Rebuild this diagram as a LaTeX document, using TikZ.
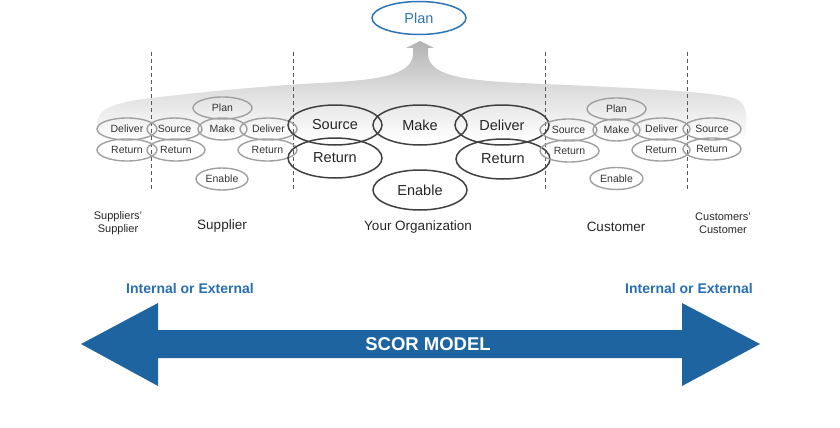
\documentclass[tikz,border=0pt]{standalone}
\usepackage{fontspec}
\setmainfont{Liberation Sans}
\usetikzlibrary{shapes.geometric}
\definecolor{scorblue}{RGB}{30,100,160}
\definecolor{txtblue}{RGB}{40,110,180}
\definecolor{plblue}{RGB}{46,117,182}
\definecolor{smallring}{RGB}{160,160,160}
\definecolor{bigring}{RGB}{64,64,64}
\definecolor{fantop}{RGB}{178,178,178}
\definecolor{fanmid}{RGB}{222,222,222}
\tikzset{
  smallell/.style={ellipse, draw=smallring, line width=1.4pt, minimum height=22pt, inner sep=0pt,
    font=\fontsize{10.5}{12}\selectfont, text=black!80},
  bigell/.style={ellipse, draw=bigring, line width=1.5pt, minimum width=94pt, minimum height=40pt, inner sep=0pt,
    font=\fontsize{14.5}{16}\selectfont, text=black!85},
  divider/.style={draw=black!65, line width=0.9pt, dash pattern=on 4pt off 3pt},
  partylabel/.style={font=\fontsize{13.5}{15}\selectfont, text=black!85, align=center},
  smalllabel/.style={font=\fontsize{11}{13}\selectfont, text=black!85, align=center},
  sidelabel/.style={font=\bfseries\fontsize{14}{16}\selectfont, text=txtblue}
}
\begin{document}
\begin{tikzpicture}[x=1pt,y=-1pt]
\path[use as bounding box] (0,0) rectangle (840,428);
% grey fan with upward arrow
\shade[top color=fantop, bottom color=white, middle color=fanmid]
  (420,41) -- (434,48) -- (428,48) -- (428,55)
  .. controls (430,75) and (460,80) .. (520,83)
  .. controls (640,88) and (725,92) .. (738,100)
  .. controls (746,105) and (746,112) .. (746,118)
  -- (746,140) -- (97,140) -- (97,124)
  .. controls (97,110) and (110,102) .. (160,97)
  .. controls (220,90) and (280,85) .. (320,83)
  .. controls (380,80) and (411,75) .. (413,55)
  -- (413,48) -- (406,48) -- cycle;
% top plan
\node[ellipse, draw=plblue, line width=1.5pt, minimum width=94pt, minimum height=33pt, inner sep=0pt,
  font=\fontsize{14.5}{16}\selectfont, text=plblue] (topplan) at (419,18) {Plan};
% dividers
\coordinate (d1t) at (151,52); \coordinate (d1b) at (151,190);
\coordinate (d2t) at (293,52); \coordinate (d2b) at (293,190);
\coordinate (d3t) at (545,52); \coordinate (d3b) at (545,190);
\coordinate (d4t) at (687,52); \coordinate (d4b) at (687,190);
\draw[divider] (d1t) -- (d1b);
\draw[divider] (d2t) -- (d2b);
\draw[divider] (d3t) -- (d3b);
\draw[divider] (d4t) -- (d4b);
% suppliers' supplier
\node[smallell, minimum width=60pt] (ssdel) at (127,129) {Deliver};
\node[smallell, minimum width=60pt] (ssret) at (127,150) {Return};
% supplier
\node[smallell, minimum width=55pt] (ssrc) at (174.5,129) {Source};
\node[smallell, minimum width=58pt] (sret) at (176,150) {Return};
\node[smallell, minimum width=59pt] (splan) at (222.5,108) {Plan};
\node[smallell, minimum width=49pt] (smake) at (222.5,129) {Make};
\node[smallell, minimum width=57pt] (sdel) at (268.5,129) {Deliver};
\node[smallell, minimum width=59pt] (sret2) at (267.5,150) {Return};
\node[smallell, minimum width=52pt] (sen) at (222,179) {Enable};
% organization
\node[bigell] (osrc) at (335,125) {Source};
\node[bigell] (omake) at (420,125) {Make};
\node[bigell] (odel) at (502,125) {Deliver};
\node[bigell] (oret1) at (335,158) {Return};
\node[bigell] (oret2) at (503,159) {Return};
\node[bigell] (oen) at (420,190) {Enable};
% customer
\node[smallell, minimum width=57pt] (csrc) at (568.5,130) {Source};
\node[smallell, minimum width=59pt] (cret) at (569.5,151) {Return};
\node[smallell, minimum width=59pt] (cplan) at (616.5,109) {Plan};
\node[smallell, minimum width=47pt] (cmake) at (616.5,130) {Make};
\node[smallell, minimum width=57pt] (cdel) at (661.5,129) {Deliver};
\node[smallell, minimum width=58pt] (cret2) at (661,150) {Return};
\node[smallell, minimum width=53pt] (cen) at (616.5,178.5) {Enable};
% customer's customer
\node[smallell, minimum width=58pt] (ccsrc) at (712,129) {Source};
\node[smallell, minimum width=58pt] (ccret) at (712,149) {Return};
% party labels
\node[smalllabel] (lss) at (118,223) {Suppliers'\\Supplier};
\node[partylabel] (ls) at (222,226) {Supplier};
\node[partylabel] (lo) at (418,227) {Your Organization};
\node[partylabel] (lc) at (616,227) {Customer};
\node[smalllabel] (lcc) at (723,223) {Customers'\\Customer};
% internal / external
\node[sidelabel] (ie1) at (190,288) {Internal or External};
\node[sidelabel] (ie2) at (689,288) {Internal or External};
% double arrow
\fill[scorblue] (81,344) -- (158,303) -- (158,330) -- (682,330) -- (682,303) -- (760,344)
  -- (682,386) -- (682,358) -- (158,358) -- (158,386) -- cycle;
\node[font=\bfseries\fontsize{18.5}{20}\selectfont, text=white] (scor) at (428,344) {SCOR MODEL};
\end{tikzpicture}
\end{document}
